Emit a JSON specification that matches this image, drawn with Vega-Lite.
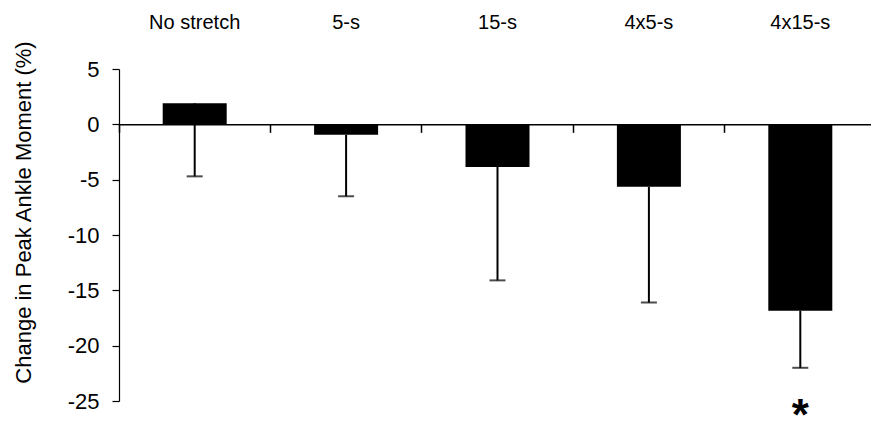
{
  "$schema": "https://vega.github.io/schema/vega-lite/v6.json",
  "width": 752,
  "height": 332,
  "autosize": {"type": "none"},
  "padding": {"left": 119, "top": 69, "right": 0, "bottom": 22},
  "config": {
    "view": {"stroke": null},
    "font": "Liberation Sans",
    "axis": {
      "grid": false,
      "domainColor": "black",
      "tickColor": "black",
      "labelColor": "black",
      "titleColor": "black"
    }
  },
  "data": {
    "values": [
      {"condition": "No stretch", "change": 1.9, "sdLow": -4.7, "sig": ""},
      {"condition": "5-s", "change": -0.95, "sdLow": -6.5, "sig": ""},
      {"condition": "15-s", "change": -3.85, "sdLow": -14.1, "sig": ""},
      {"condition": "4x5-s", "change": -5.65, "sdLow": -16.1, "sig": ""},
      {"condition": "4x15-s", "change": -16.85, "sdLow": -22.0, "sig": "*"}
    ]
  },
  "resolve": {"axis": {"x": "independent", "y": "independent"}},
  "layer": [
    {
      "mark": {"type": "bar", "color": "black", "size": 64},
      "encoding": {
        "x": {
          "field": "condition",
          "type": "nominal",
          "sort": null,
          "scale": {"paddingInner": 0, "paddingOuter": 0, "range": [0, 757]},
          "axis": {
            "orient": "top",
            "title": null,
            "domain": false,
            "ticks": false,
            "labelAngle": 0,
            "labelPadding": 37,
            "labelFont": "Liberation Sans",
            "labelFontSize": 20
          }
        },
        "y": {
          "field": "change",
          "type": "quantitative",
          "scale": {"domain": [-25, 5], "nice": false, "zero": false},
          "axis": {
            "values": [-25, -20, -15, -10, -5, 0, 5],
            "labelExpr": "'' + datum.value",
            "title": "Change in Peak Ankle Moment (%)",
            "titleFontSize": 22,
            "titleFontWeight": "normal",
            "titleX": -96,
            "titleY": 143,
            "titleAngle": -90,
            "titleAlign": "center",
            "titleBaseline": "middle",
            "labelFontSize": 22,
            "labelPadding": 13,
            "tickSize": 7,
            "domainWidth": 1.2,
            "tickWidth": 1.2
          }
        }
      }
    },
    {
      "mark": {"type": "rule", "color": "black", "strokeWidth": 2},
      "encoding": {
        "x": {
          "field": "condition",
          "type": "nominal",
          "sort": null,
          "axis": {
            "orient": "bottom",
            "offset": -276.67,
            "bandPosition": 0,
            "labels": false,
            "title": null,
            "tickSize": 8,
            "tickWidth": 1.5,
            "domainWidth": 1.5
          }
        },
        "y": {"field": "change", "type": "quantitative", "axis": null},
        "y2": {"field": "sdLow"}
      }
    },
    {
      "mark": {"type": "tick", "orient": "horizontal", "color": "black", "size": 16, "thickness": 2},
      "encoding": {
        "x": {"field": "condition", "type": "nominal", "sort": null, "axis": null},
        "y": {"field": "sdLow", "type": "quantitative", "axis": null}
      }
    },
    {
      "mark": {"type": "text", "color": "black", "fontSize": 44, "fontWeight": "bold", "baseline": "top", "align": "center"},
      "encoding": {
        "x": {"field": "condition", "type": "nominal", "sort": null, "axis": null},
        "y": {"datum": -24.45, "type": "quantitative", "axis": null},
        "text": {"field": "sig"}
      }
    }
  ]
}
